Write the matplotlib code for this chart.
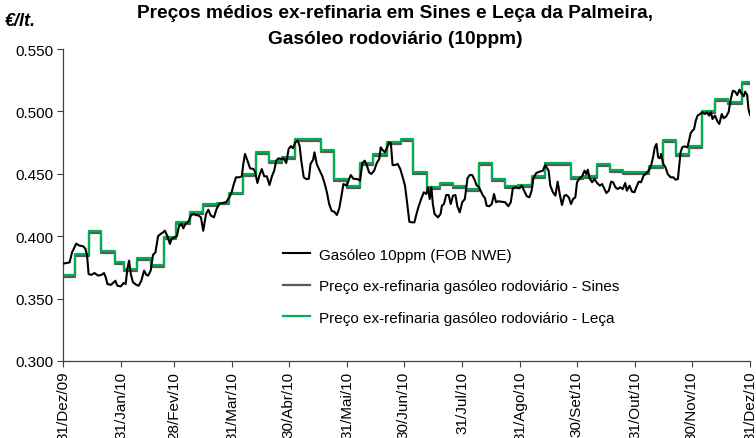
import matplotlib
matplotlib.use('Agg')
import matplotlib.pyplot as plt

plt.rcParams['font.family'] = ['Liberation Sans', 'DejaVu Sans']

##############################################################################
# x = days since 31/Dez/09
month_ticks = [0, 31, 59, 90, 120, 151, 181, 212, 243, 273, 304, 334, 365]
month_labels = ['31/Dez/09', '31/Jan/10', '28/Fev/10', '31/Mar/10', '30/Abr/10',
                '31/Mai/10', '30/Jun/10', '31/Jul/10', '31/Ago/10', '30/Set/10',
                '31/Out/10', '30/Nov/10', '31/Dez/10']
y_ticks = [0.300, 0.350, 0.400, 0.450, 0.500, 0.550]

# Gasóleo 10ppm (FOB NWE), daily quotes
fob_day = [0, 3.5, 4.8, 7, 8.8, 10.6, 11.9, 12.8, 13.6, 15, 16.8, 18.6, 20.4, 21.8,
           22.7, 23.6, 25.4, 26.6, 27.8, 28.9, 30.7, 32.2, 33.3, 34.2, 35.1, 36,
           37.2, 39, 40.2, 41.6, 43.1, 44.3, 45.2, 46.6, 47.8, 49.1, 50.5, 51.9,
           53.2, 54.1, 55.5, 56.8, 57.7, 59.1, 60.5, 61.6, 63, 63.9, 65.1, 66.6,
           68, 69.2, 70.5, 71.9, 73.3,
           74.5, 76, 77.2, 78.5, 80.2, 81.6, 83, 84.8, 86.6, 88.4, 89.6, 90.5,
           91.9, 93.7, 95, 95.8, 96.7, 98, 99.4, 101.2, 102, 103.3, 104.3, 105.6,
           106.9, 108.3, 109.7, 111, 112.2, 113.3, 114.5, 115.8, 117.2, 118.6,
           119.9, 121.1, 122.2, 123.4, 124.7, 125.7, 126.6, 127.9, 129.3, 130.6,
           131.5, 132.9, 133.6, 134.8, 136, 137.8, 139.1, 140.2, 141.4, 142.7,
           144.1, 145.5, 146.8,
           147.2, 149, 150.7, 152, 152.9, 154.3, 156.4, 157.8, 159.1, 160.3, 161.4,
           162.6, 163.8, 165.3, 166.7, 168, 168.8, 169.7, 171, 172, 173.3, 174.2,
           175.1, 176.3, 177.8, 179.2, 180.5, 181.7, 182.8, 184, 185.3, 186.7,
           187.6, 188.8, 190.3, 191.7, 193, 193.9, 194.8, 195.7, 196.5, 197.4,
           199.2, 200.6, 201.3, 202.4, 203.6, 204.9, 206, 207.2, 208.5, 209.5,
           210.8, 212.1, 213.5, 214.9, 216.1, 217.4, 218.5, 219.7, 221,
           223, 224.2, 225.1, 226.5, 227.8, 229, 230.1, 231.3, 233.1, 234.9, 236.6,
           237.9, 239, 240.7, 242.5, 243.7, 245, 246.4, 247.8, 249, 249.9, 251.4,
           253.2, 254.9, 256.2, 258, 258.9, 260.3, 261.6, 262.8, 263.9, 265.1,
           266.4, 267.4, 268.7, 269.9, 271, 272.2, 273.1, 274.5, 275.8, 277.1,
           278.1, 278.8, 279.8, 281.1, 282.3, 283.8, 285.2, 286.4, 287.7, 288.7,
           290, 291.2, 292.3, 293.5, 294.7,
           296, 297.4, 298.7, 299.6, 301, 302.3, 303.6, 304.6, 305.9, 307.1, 308.5,
           310, 311.2, 312.5, 313.5, 314.4, 315.3, 316.2, 317.1, 317.8, 318.9,
           320.1, 321.3, 322.8, 324.2, 325.5, 326.7, 327.4, 328.1, 329, 330.3,
           331.7, 332.6, 333.5, 334.4, 335.3, 336.2, 337.1, 338.5, 339.7, 341, 342,
           343.3, 344.2, 345.1, 346.4, 347.8, 348.7, 350, 351, 352.3, 353.6, 354.7,
           355.9, 357.1, 358.2, 359.4, 360.3, 361.7, 362.4, 363.5, 364.2, 365]
fob_val = [0.378, 0.379, 0.387, 0.394, 0.3924, 0.392, 0.390, 0.3844, 0.3697, 0.369,
           0.3705, 0.3684, 0.369, 0.3705, 0.367, 0.3617, 0.361, 0.3625, 0.3643,
           0.3603, 0.3598, 0.3625, 0.3617, 0.3737, 0.3804, 0.3697, 0.363, 0.361,
           0.3603, 0.3643, 0.3724, 0.369, 0.3684, 0.3724, 0.385, 0.387, 0.400,
           0.4018, 0.4031, 0.4044, 0.400, 0.3938, 0.3978, 0.399, 0.400, 0.4079,
           0.4098, 0.4063, 0.4098, 0.4116, 0.4166, 0.4178, 0.417, 0.4166, 0.4151,
           0.4044, 0.4178, 0.4212, 0.4166, 0.4151, 0.4218, 0.4258, 0.4266, 0.4272,
           0.4312, 0.4352, 0.4405, 0.4472, 0.4472, 0.448, 0.4579, 0.4659, 0.4605,
           0.4544, 0.4538, 0.4517, 0.4426, 0.4485, 0.4538, 0.448, 0.448, 0.441,
           0.448, 0.4525, 0.4605, 0.4624, 0.4618, 0.4624, 0.4587, 0.470, 0.4722,
           0.4705, 0.4752, 0.4765, 0.4725, 0.4605, 0.4472, 0.4458, 0.446, 0.4579,
           0.4613, 0.4672, 0.4579, 0.4538, 0.448, 0.4418, 0.4352, 0.4258, 0.4204,
           0.4196, 0.417, 0.4224,
           0.4258, 0.4418, 0.4405, 0.4458, 0.449, 0.446, 0.4458, 0.4445, 0.4587,
           0.4605, 0.457, 0.4512, 0.4498, 0.4525, 0.4587, 0.4618, 0.4712, 0.4693,
           0.4672, 0.4705, 0.4752, 0.4745, 0.457, 0.457, 0.4579, 0.4538, 0.4472,
           0.4405, 0.4272, 0.4116, 0.4111, 0.4111, 0.4166, 0.4232, 0.4298, 0.4352,
           0.4338, 0.4392, 0.4298, 0.4392, 0.4258, 0.4178, 0.4151, 0.4178, 0.4244,
           0.4258, 0.433, 0.433, 0.4258, 0.4325, 0.433, 0.424, 0.4191, 0.4272,
           0.4298, 0.4464, 0.449, 0.449, 0.4458, 0.441, 0.4392,
           0.433, 0.4304, 0.4244, 0.424, 0.4258, 0.4338, 0.4272, 0.428, 0.4276,
           0.4272, 0.424, 0.4272, 0.4384, 0.4392, 0.4384, 0.4405, 0.4365, 0.432,
           0.4312, 0.4365, 0.4464, 0.4506, 0.4517, 0.4525, 0.457, 0.4525, 0.4405,
           0.4352, 0.4325, 0.4437, 0.4338, 0.425, 0.4325, 0.433, 0.4312, 0.4258,
           0.4298, 0.4312, 0.4432, 0.4464, 0.448, 0.4525, 0.4498, 0.4533, 0.4464,
           0.4432, 0.4458, 0.4426, 0.4405, 0.4418, 0.4378, 0.4346, 0.4365, 0.4437,
           0.4432, 0.4392, 0.4378,
           0.4392, 0.4378, 0.4426, 0.4365, 0.4405, 0.4357, 0.4352, 0.4392, 0.4437,
           0.4432, 0.4485, 0.4506, 0.4525, 0.457, 0.4632, 0.4712, 0.4739, 0.4632,
           0.4624, 0.4659, 0.4579, 0.4552, 0.4498, 0.4472, 0.4472, 0.4453, 0.4458,
           0.4565, 0.4672, 0.4712, 0.472, 0.4712, 0.4765, 0.4827, 0.4845, 0.4859,
           0.4926, 0.4966, 0.4979, 0.4993, 0.4979, 0.4993, 0.4966, 0.4993, 0.4939,
           0.4966, 0.4917, 0.4899, 0.4979, 0.4945, 0.4959, 0.4993, 0.5094, 0.5166,
           0.5158, 0.5131, 0.5174, 0.5147, 0.5121, 0.5158, 0.5131, 0.5019, 0.4971]

# weekly ex-refinery prices (day of change, value)
step_day = [0, 6.5, 13.6, 20.4, 27.5, 32.4, 39.3, 46.6, 53.5, 60.2, 67.6, 74.5,
            81.6, 88.4, 95.5, 102.5, 109.5, 116.4, 123.3, 136.9, 144, 150.7,
            157.8, 164.9, 172.3, 179.4, 186.1, 193.6, 200.3, 207.4, 214.1, 221.2,
            227.8, 234.9, 242, 249, 256.1, 269.8, 276.5, 283.6, 290.6, 297.7,
            311.5, 318.6, 325.7, 332.8, 339.4, 346.4, 353.5, 361, 365]
leca_val = [0.369, 0.386, 0.404, 0.388, 0.379, 0.374, 0.3825, 0.377, 0.399, 0.4116,
            0.419, 0.426, 0.427, 0.435, 0.4498, 0.4677, 0.4605, 0.4632, 0.4779,
            0.4693, 0.4458, 0.4405, 0.4587, 0.4659, 0.4752, 0.4779, 0.4517, 0.4392,
            0.4426, 0.4405, 0.4378, 0.4587, 0.4458, 0.440, 0.4413, 0.448, 0.4587,
            0.4472, 0.448, 0.4579, 0.4533, 0.4517, 0.4565, 0.4771, 0.4659, 0.472,
            0.500, 0.510, 0.5078, 0.5238, 0.5238]
sines_val = [0.3675, 0.3845, 0.4025, 0.3865, 0.3775, 0.3725, 0.381, 0.3755, 0.3975,
             0.410, 0.4175, 0.4245, 0.4255, 0.4335, 0.4483, 0.4662, 0.459, 0.4617,
             0.4764, 0.4678, 0.4443, 0.439, 0.4572, 0.4644, 0.4737, 0.4764, 0.4502,
             0.4377, 0.4411, 0.439, 0.4363, 0.4572, 0.4443, 0.4385, 0.4398, 0.4465,
             0.4572, 0.4457, 0.4465, 0.4564, 0.4518, 0.4502, 0.455, 0.4756, 0.4644,
             0.4705, 0.4985, 0.5085, 0.5063, 0.5223, 0.5223]
##############################################################################

fig = plt.figure(figsize=(7.56, 4.39), dpi=100)
ax = fig.add_axes([63/756, 1 - 362/439, (750 - 63)/756, (362 - 50)/439])

l1, = ax.plot(fob_day, fob_val, color='black', lw=1.5, zorder=3)
l2, = ax.step(step_day, sines_val, where='post', color='#5a5a5a', lw=1.6, zorder=2)
l3, = ax.step(step_day, leca_val, where='post', color='#00b050', lw=1.6, zorder=2.5)

ax.set_xlim(0, 365)
ax.set_ylim(0.300, 0.550)
ax.set_xticks(month_ticks)
ax.set_xticklabels(month_labels, rotation=90, fontsize=11)
ax.set_yticks(y_ticks)
ax.set_yticklabels([f'{v:.3f}' for v in y_ticks], fontsize=11)
ax.tick_params(axis='both', direction='out', length=4, width=0.8, color='#404040', pad=3)

for s in ['top', 'right']:
    ax.spines[s].set_visible(False)
for s in ['left', 'bottom']:
    ax.spines[s].set_color('#404040')
    ax.spines[s].set_linewidth(0.9)

ax.legend([l1, l2, l3],
          ['Gasóleo 10ppm (FOB NWE)',
           'Preço ex-refinaria gasóleo rodoviário - Sines',
           'Preço ex-refinaria gasóleo rodoviário - Leça'],
          loc='upper left', bbox_to_anchor=(275/756, 1 - 241/439),
          bbox_transform=fig.transFigure, frameon=False, fontsize=11,
          handlelength=1.8, handletextpad=0.6, labelspacing=1.15, borderpad=0)

title_lines = ['Preços médios ex-refinaria em Sines e Leça da Palmeira,',
               'Gasóleo rodoviário (10ppm)']
fig.text(395/756, 1 - 13/439, title_lines[0], ha='center', va='center',
         fontsize=13.8, fontweight='bold')
fig.text(395/756, 1 - 40/439, title_lines[1], ha='center', va='center',
         fontsize=13.8, fontweight='bold')
fig.text(5/756, 1 - 22/439, '€/lt.', ha='left', va='center', fontsize=13,
         fontweight='bold', fontstyle='italic')

fig.savefig('out.png', dpi=100)
